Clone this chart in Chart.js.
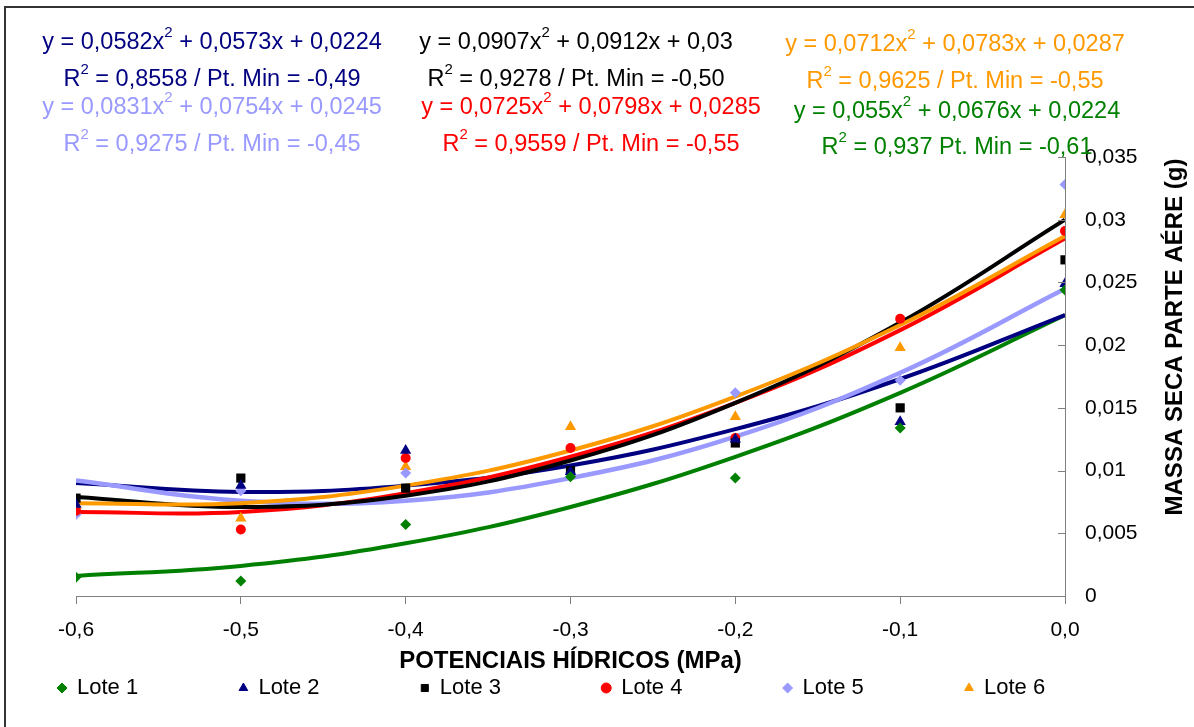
<!DOCTYPE html>
<html lang="pt">
<head>
<meta charset="utf-8">
<title>Massa seca parte aérea</title>
<script src="https://cdn.jsdelivr.net/npm/chart.js"></script>
<style>
    html, body { margin: 0; padding: 0; background: #ffffff; }
    #grafico { display: block; }
</style>
</head>
<body>
<canvas id="grafico" width="1194" height="727"></canvas>
<script>
// Potenciais hídricos (eixo X)
const potenciais = [-0.6, -0.5, -0.4, -0.3, -0.2, -0.1, 0];

// Valores medidos por lote
const lote1 = [0.0015, 0.0012, 0.0057, 0.0095, 0.0094, 0.0134, 0.0244];
const lote2 = [0.0073, 0.0088, 0.0116, 0.0099, 0.0125, 0.0139, 0.0249];
const lote3 = [0.0078, 0.0094, 0.0086, 0.0100, 0.0122, 0.0150, 0.0268];
const lote4 = [0.0068, 0.0053, 0.0110, 0.0118, 0.0126, 0.0221, 0.0291];
const lote5 = [0.0065, 0.0084, 0.0098, 0.0098, 0.0162, 0.0172, 0.0328];
const lote6 = [0.0072, 0.0062, 0.0103, 0.0135, 0.0143, 0.0198, 0.0304];

// Linhas de tendência
const tend1 = [0.0016, 0.0024, 0.0042, 0.0071, 0.0111, 0.0162, 0.0224];
const tend2 = [0.0090, 0.0083, 0.0088, 0.0104, 0.0133, 0.0173, 0.0224];
const tend3 = [0.0079, 0.0071, 0.0080, 0.0108, 0.0154, 0.0218, 0.0300];
const tend4 = [0.0067, 0.0067, 0.0082, 0.0111, 0.0154, 0.0212, 0.0285];
const tend5 = [0.0092, 0.0076, 0.0076, 0.0094, 0.0127, 0.0178, 0.0245];
const tend6 = [0.0074, 0.0074, 0.0088, 0.0116, 0.0159, 0.0216, 0.0287];

const nomes = ['Lote 1', 'Lote 2', 'Lote 3', 'Lote 4', 'Lote 5', 'Lote 6'];
const cores = ['#008000', '#000080', '#000000', '#FF0000', '#9999FF', '#FF9900'];
const marcadores = ['rectRot', 'triangle', 'rect', 'circle', 'rectRot', 'triangle'];
const raios = [5.5, 6.5, 6.5, 5, 5.5, 6.5];

// Equações: [antes do expoente, expoente, depois]
const equacoes = [
    ['y = 0,055x', '2', ' + 0,0676x + 0,0224'],
    ['y = 0,0582x', '2', ' + 0,0573x + 0,0224'],
    ['y = 0,0907x', '2', ' + 0,0912x + 0,03'],
    ['y = 0,0725x', '2', ' + 0,0798x + 0,0285'],
    ['y = 0,0831x', '2', ' + 0,0754x + 0,0245'],
    ['y = 0,0712x', '2', ' + 0,0783x + 0,0287']
];
const ajustes = [
    ['R', '2', ' = 0,937 Pt. Min = -0,61'],
    ['R', '2', ' = 0,8558 / Pt. Min = -0,49'],
    ['R', '2', ' = 0,9278 / Pt. Min = -0,50'],
    ['R', '2', ' = 0,9559 / Pt. Min = -0,55'],
    ['R', '2', ' = 0,9275 / Pt. Min = -0,45'],
    ['R', '2', ' = 0,9625 / Pt. Min = -0,55']
];
// Centro de cada bloco de texto [x, y linha 1, y linha 2]
const posEquacoes = [
    [957, 112, 148],
    [212, 43, 80],
    [576, 43, 80],
    [591, 108, 145],
    [212, 108, 145],
    [955, 45, 82]
];

const tendencias = [tend1, tend2, tend3, tend4, tend5, tend6];
const medidas = [lote1, lote2, lote3, lote4, lote5, lote6];
// Ordem de desenho das linhas (maior = mais embaixo)
const ordemLinhas = [7, 6, 3, 4, 5, 2];

const FONTE = '"Liberation Sans", Arial, sans-serif';

function pontos(valores) {
    return potenciais.map((x, i) => ({ x: x, y: valores[i] }));
}

function formatarVirgula(v, casas) {
    return parseFloat(v.toFixed(casas)).toString().replace('.', ',');
}

// Texto com expoente, centrado em cx
function textoComExpoente(ctx, partes, cx, cy, tam, cor) {
    const fonteNormal = tam + 'px ' + FONTE;
    const fonteExp = Math.round(tam * 0.62) + 'px ' + FONTE;
    ctx.font = fonteNormal;
    const w1 = ctx.measureText(partes[0]).width;
    const w3 = ctx.measureText(partes[2]).width;
    ctx.font = fonteExp;
    const w2 = ctx.measureText(partes[1]).width;
    let x = cx - (w1 + w2 + w3) / 2;
    ctx.fillStyle = cor;
    ctx.textBaseline = 'middle';
    ctx.textAlign = 'left';
    ctx.font = fonteNormal;
    ctx.fillText(partes[0], x, cy);
    x += w1;
    ctx.font = fonteExp;
    ctx.fillText(partes[1], x, cy - tam * 0.42);
    x += w2;
    ctx.font = fonteNormal;
    ctx.fillText(partes[2], x, cy);
}

const decoracao = {
    id: 'decoracao',
    afterDraw(chart) {
        const ctx = chart.ctx;
        const area = chart.chartArea;
        const escalaY = chart.scales.y;
        ctx.save();

        // Moldura externa
        ctx.strokeStyle = '#333333';
        ctx.lineWidth = 2;
        ctx.strokeRect(5, 7, 1250, 800);

        // Marcas do eixo Y para dentro
        ctx.strokeStyle = '#808080';
        ctx.lineWidth = 1;
        escalaY.ticks.forEach(t => {
            const py = Math.round(escalaY.getPixelForValue(t.value)) + 0.5;
            ctx.beginPath();
            ctx.moveTo(area.right - 7, py);
            ctx.lineTo(area.right, py);
            ctx.stroke();
        });

        // Equações
        for (let i = 0; i < 6; i++) {
            const p = posEquacoes[i];
            textoComExpoente(ctx, equacoes[i], p[0], p[1], 23.5, cores[i]);
            textoComExpoente(ctx, ajustes[i], p[0], p[2], 23.5, cores[i]);
        }

        // Título do eixo X
        ctx.fillStyle = '#000000';
        ctx.font = 'bold 24px ' + FONTE;
        ctx.textAlign = 'center';
        ctx.textBaseline = 'middle';
        ctx.fillText('POTENCIAIS HÍDRICOS (MPa)', (area.left + area.right) / 2, 661);

        // Título do eixo Y
        ctx.save();
        ctx.translate(1175, 337);
        ctx.rotate(-Math.PI / 2);
        ctx.font = 'bold 24px ' + FONTE;
        ctx.fillText('MASSA SECA PARTE AÉRE (g)', 0, 0);
        ctx.restore();

        // Legenda
        ctx.font = '22px ' + FONTE;
        ctx.textAlign = 'left';
        for (let i = 0; i < 6; i++) {
            const mx = 62 + i * 181.4;
            const my = 688;
            ctx.fillStyle = cores[i];
            ctx.strokeStyle = cores[i];
            Chart.helpers.drawPoint(ctx, {
                pointStyle: marcadores[i],
                radius: 5,
                rotation: 0,
                borderWidth: 1
            }, mx, my);
            ctx.fillStyle = '#000000';
            ctx.fillText(nomes[i], mx + 15, my);
        }
        ctx.restore();
    }
};

// Conjuntos de dados: linhas de tendência e pontos
const datasets = [];
for (let i = 0; i < 6; i++) {
    datasets.push({
        label: nomes[i] + ' tendência',
        data: pontos(tendencias[i]),
        showLine: true,
        borderColor: cores[i],
        borderWidth: i === 4 ? 4.5 : 4,
        pointRadius: 0,
        tension: 0.4,
        fill: false,
        order: ordemLinhas[i]
    });
}
for (let i = 0; i < 6; i++) {
    datasets.push({
        label: nomes[i],
        data: pontos(medidas[i]),
        showLine: false,
        pointStyle: marcadores[i],
        pointRadius: raios[i],
        pointBackgroundColor: cores[i],
        pointBorderColor: cores[i],
        pointBorderWidth: 0,
        order: 1
    });
}

new Chart(document.getElementById('grafico'), {
    type: 'scatter',
    data: { datasets: datasets },
    options: {
        responsive: false,
        animation: false,
        layout: {
            padding: { left: 76, top: 157, right: 49, bottom: 81 }
        },
        plugins: {
            legend: { display: false },
            tooltip: { enabled: false }
        },
        scales: {
            x: {
                type: 'linear',
                position: 'bottom',
                min: -0.6,
                max: 0,
                afterFit: function(scale) {
                    scale.height = 50;
                    scale.paddingLeft = 0;
                    scale.paddingRight = 0;
                },
                ticks: {
                    stepSize: 0.1,
                    padding: 14,
                    color: '#000000',
                    font: { family: FONTE, size: 21 },
                    maxRotation: 0,
                    callback: function(v) {
                        return v.toFixed(1).replace('.', ',').replace('-0,0', '0,0');
                    }
                },
                grid: {
                    drawOnChartArea: false,
                    drawTicks: true,
                    tickLength: 8,
                    color: '#808080'
                },
                border: { display: true, color: '#808080', width: 1 }
            },
            y: {
                type: 'linear',
                position: 'right',
                min: 0,
                max: 0.035,
                afterFit: function(scale) {
                    scale.width = 80;
                    scale.paddingTop = 0;
                    scale.paddingBottom = 0;
                },
                ticks: {
                    stepSize: 0.005,
                    padding: 20,
                    color: '#000000',
                    font: { family: FONTE, size: 21 },
                    callback: function(v) {
                        return formatarVirgula(v, 3);
                    }
                },
                grid: {
                    drawOnChartArea: false,
                    drawTicks: false
                },
                border: { display: true, color: '#808080', width: 1 }
            }
        }
    },
    plugins: [decoracao]
});
</script>
</body>
</html>
